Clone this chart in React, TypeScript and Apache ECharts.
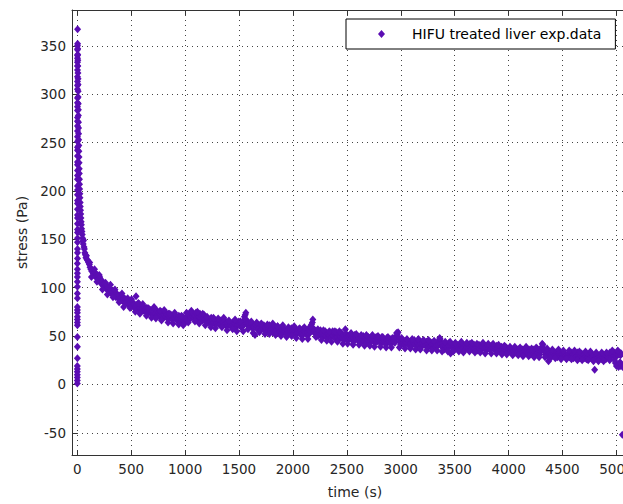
import React, { useEffect, useRef } from "react";
import * as echarts from "echarts";

const seriesName = "HIFU treated liver exp.data";
const xAxisTitle = "time (s)";
const yAxisTitle = "stress (Pa)";

// loading ramp (time s, stress Pa)
const loadingPhase: number[][] = [
  [0, 1], [0, 4], [0, 7], [0, 10], [0, 13], [0, 16], [0, 19], [1, 27], [1, 39], [1, 49], [1, 61], [1, 64], [1, 67],
  [1, 70], [1, 74], [1, 77], [1, 80], [1, 89], [1, 94], [1, 101], [1, 106], [1, 111], [1, 115], [1, 119], [1, 125],
  [2, 130], [2, 136], [2, 140], [2, 147], [2, 151], [2, 157], [2, 160], [2, 166], [2, 172], [2, 175], [2, 181],
  [2, 187], [2, 190], [2, 196], [2, 201], [2, 205], [2, 212], [2, 216], [2, 221], [2, 227], [2, 230], [2, 236],
  [2, 242], [2, 245], [2, 251], [2, 256], [2, 262], [2, 267], [2, 272], [2, 276], [2, 283], [2, 287], [2, 291],
  [2, 296], [2, 305], [2, 309], [2, 313], [2, 318], [2, 325], [2, 329], [2, 333], [2, 337], [2, 340], [2, 346],
  [2, 350], [3, 367],
];

// relaxation, first 100 s
const relaxationEarly: number[][] = [
  [3, 352], [4, 347], [4, 341], [5, 335], [5, 329], [6, 322], [7, 316], [7, 310], [8, 303], [8, 297], [9, 290],
  [10, 284], [10, 278], [11, 271], [12, 265], [12, 259], [13, 253], [14, 247], [15, 241], [16, 235], [17, 229],
  [18, 223], [19, 218], [20, 212], [21, 207], [22, 202], [24, 197], [25, 193], [27, 188], [28, 184], [30, 180],
  [32, 176], [34, 172], [36, 168], [38, 165], [40, 161], [43, 158], [46, 155], [49, 151], [52, 148], [55, 145],
  [58, 149], [62, 142], [66, 140], [70, 136], [75, 134], [80, 131], [85, 133], [90, 129],
];

// relaxation, 100 - 1000 s
const relaxationA: number[][] = [
  [96, 128], [104, 126], [112, 124], [118, 121], [126, 119], [134, 117], [140, 118], [148, 115], [155, 113],
  [162, 116], [170, 112], [178, 110], [185, 113], [192, 109], [200, 108], [208, 111], [215, 106], [222, 104],
  [230, 107], [238, 103], [245, 101], [252, 104], [260, 100], [268, 102], [275, 98], [282, 101], [290, 97],
  [298, 99], [305, 95], [312, 98], [320, 94], [328, 96], [335, 93], [342, 97], [350, 92], [358, 90], [365, 94],
  [372, 91], [380, 89], [388, 92], [395, 88], [402, 90], [410, 87], [418, 91], [425, 86], [432, 89], [440, 85],
  [448, 88], [455, 84], [462, 87], [470, 83], [478, 86], [485, 82], [492, 85], [500, 83], [508, 81], [515, 84],
  [522, 80], [530, 83], [538, 79], [545, 91], [552, 82], [560, 80], [568, 78], [575, 83], [582, 79], [590, 77],
  [598, 81], [605, 78], [612, 76], [620, 80], [628, 77], [635, 75], [642, 79], [650, 76], [658, 74], [665, 78],
  [672, 75], [680, 77], [688, 73], [695, 76], [702, 72], [710, 75], [718, 78], [725, 73], [732, 71], [740, 76],
  [748, 72], [755, 74], [762, 70], [770, 73], [778, 75], [785, 71], [792, 73], [800, 69], [808, 72], [815, 75],
  [822, 70], [830, 72], [838, 68], [845, 73], [852, 71], [860, 69], [868, 72], [875, 70], [882, 67], [890, 71],
  [898, 69], [905, 72], [912, 68], [920, 70], [928, 66], [935, 69], [942, 71], [950, 67], [958, 65], [965, 69],
  [972, 67], [980, 70], [988, 66], [995, 68],
];

// relaxation, 1000 - 2000 s
const relaxationB: number[][] = [
  [1002, 64], [1010, 67], [1018, 70], [1025, 66], [1032, 72], [1040, 68], [1048, 71], [1055, 69], [1062, 73],
  [1070, 70], [1078, 72], [1085, 68], [1092, 71], [1100, 74], [1108, 69], [1115, 72], [1122, 67], [1130, 70],
  [1138, 73], [1145, 68], [1152, 71], [1160, 66], [1168, 69], [1175, 72], [1182, 67], [1190, 65], [1198, 69],
  [1205, 66], [1212, 68], [1220, 64], [1228, 67], [1235, 65], [1242, 69], [1250, 63], [1258, 66], [1265, 64],
  [1272, 67], [1280, 62], [1288, 65], [1295, 63], [1302, 67], [1310, 64], [1318, 62], [1325, 66], [1332, 63],
  [1340, 65], [1348, 61], [1355, 64], [1362, 62], [1370, 66], [1378, 63], [1385, 60], [1392, 64], [1400, 62],
  [1408, 65], [1415, 61], [1422, 63], [1430, 60], [1438, 64], [1445, 62], [1452, 59], [1460, 63], [1468, 61],
  [1475, 64], [1482, 60], [1490, 62], [1498, 65], [1505, 61], [1512, 63], [1520, 59], [1528, 62], [1535, 60],
  [1542, 66], [1550, 70], [1558, 72], [1565, 67], [1572, 63], [1580, 61], [1588, 64], [1595, 59], [1602, 62],
  [1610, 60], [1618, 63], [1625, 58], [1632, 61], [1640, 59], [1648, 51], [1655, 62], [1662, 58], [1670, 60],
  [1678, 57], [1685, 61], [1692, 59], [1700, 62], [1708, 57], [1715, 60], [1722, 58], [1730, 61], [1738, 56],
  [1745, 59], [1752, 57], [1760, 60], [1768, 55], [1775, 58], [1782, 61], [1790, 56], [1798, 59], [1805, 57],
  [1812, 54], [1820, 58], [1828, 56], [1835, 59], [1842, 55], [1850, 57], [1858, 60], [1865, 54], [1872, 57],
  [1880, 55], [1888, 58], [1895, 53], [1902, 56], [1910, 58], [1918, 54], [1925, 57], [1932, 55], [1940, 52],
  [1948, 56], [1955, 54], [1962, 57], [1970, 53], [1978, 55], [1985, 58], [1992, 54],
];

// relaxation, 2000 - 3000 s
const relaxationC: number[][] = [
  [2000, 56], [2008, 53], [2015, 57], [2022, 55], [2030, 52], [2038, 56], [2045, 54], [2052, 57], [2060, 53],
  [2068, 55], [2075, 51], [2082, 54], [2090, 57], [2098, 52], [2105, 55], [2112, 53], [2120, 56], [2128, 51],
  [2135, 54], [2142, 57], [2150, 52], [2158, 55], [2165, 59], [2172, 62], [2180, 64], [2188, 58], [2195, 54],
  [2202, 56], [2210, 52], [2218, 55], [2225, 53], [2232, 50], [2240, 54], [2248, 52], [2255, 56], [2262, 51],
  [2270, 54], [2278, 49], [2285, 53], [2292, 51], [2300, 55], [2308, 50], [2315, 53], [2322, 48], [2330, 52],
  [2338, 50], [2345, 54], [2352, 49], [2360, 52], [2368, 55], [2375, 50], [2382, 53], [2390, 48], [2398, 51],
  [2405, 54], [2412, 49], [2420, 52], [2428, 47], [2435, 51], [2442, 49], [2450, 53], [2458, 48], [2465, 51],
  [2472, 46], [2480, 50], [2488, 48], [2495, 52], [2502, 49], [2510, 46], [2518, 50], [2525, 48], [2532, 51],
  [2540, 47], [2548, 49], [2555, 45], [2562, 48], [2570, 51], [2578, 46], [2585, 49], [2592, 47], [2600, 50],
  [2608, 45], [2615, 48], [2622, 46], [2630, 49], [2638, 44], [2645, 47], [2652, 50], [2660, 45], [2668, 48],
  [2675, 46], [2682, 43], [2690, 47], [2698, 49], [2705, 45], [2712, 48], [2720, 44], [2728, 47], [2735, 50],
  [2742, 45], [2750, 48], [2758, 43], [2765, 46], [2772, 49], [2780, 44], [2788, 47], [2795, 45], [2802, 48],
  [2810, 43], [2818, 46], [2825, 49], [2832, 44], [2840, 47], [2848, 45], [2855, 42], [2862, 46], [2870, 48],
  [2878, 43], [2885, 46], [2892, 44], [2900, 47], [2908, 42], [2915, 45], [2922, 48], [2930, 44], [2938, 46],
  [2945, 43], [2952, 47], [2960, 49], [2968, 52], [2975, 54], [2982, 48], [2990, 44], [2998, 41],
];

// relaxation, 3000 - 4000 s
const relaxationD: number[][] = [
  [3005, 45], [3012, 42], [3020, 46], [3028, 43], [3035, 41], [3042, 45], [3050, 43], [3058, 46], [3065, 42],
  [3072, 44], [3080, 40], [3088, 44], [3095, 42], [3102, 45], [3110, 41], [3118, 43], [3125, 46], [3132, 42],
  [3140, 44], [3148, 40], [3155, 43], [3162, 45], [3170, 41], [3178, 44], [3185, 42], [3192, 39], [3200, 43],
  [3208, 45], [3215, 41], [3222, 43], [3230, 40], [3238, 44], [3245, 42], [3252, 38], [3260, 42], [3268, 44],
  [3275, 40], [3282, 43], [3290, 41], [3298, 37], [3305, 41], [3312, 43], [3320, 39], [3328, 42], [3335, 40],
  [3342, 44], [3350, 41], [3358, 45], [3365, 47], [3372, 42], [3380, 39], [3388, 42], [3395, 40], [3402, 36],
  [3410, 41], [3418, 39], [3425, 42], [3432, 38], [3440, 40], [3448, 43], [3455, 39], [3462, 32], [3470, 40],
  [3478, 38], [3485, 41], [3492, 37], [3500, 39], [3508, 40], [3515, 38], [3522, 41], [3530, 39], [3538, 36],
  [3545, 40], [3552, 42], [3560, 38], [3568, 40], [3575, 37], [3582, 41], [3590, 39], [3598, 36], [3605, 40],
  [3612, 38], [3620, 41], [3628, 37], [3635, 39], [3642, 42], [3650, 38], [3658, 40], [3665, 36], [3672, 39],
  [3680, 41], [3688, 37], [3695, 40], [3702, 38], [3710, 35], [3718, 39], [3725, 41], [3732, 37], [3740, 39],
  [3748, 36], [3755, 40], [3762, 38], [3770, 41], [3778, 37], [3785, 39], [3792, 35], [3800, 38], [3808, 40],
  [3815, 37], [3822, 39], [3830, 36], [3838, 40], [3845, 38], [3852, 41], [3860, 37], [3868, 39], [3875, 36],
  [3882, 38], [3890, 40], [3898, 37], [3905, 39], [3912, 35], [3920, 38], [3928, 36], [3935, 39], [3942, 37],
  [3950, 34], [3958, 38], [3965, 36], [3972, 39], [3980, 35], [3988, 37], [3995, 34],
];

// relaxation, 4000 s - end, then unloading
const relaxationE: number[][] = [
  [4002, 36], [4010, 34], [4018, 37], [4025, 35], [4032, 33], [4040, 36], [4048, 34], [4055, 37], [4062, 33],
  [4070, 35], [4078, 32], [4085, 36], [4092, 34], [4100, 37], [4108, 33], [4115, 35], [4122, 32], [4130, 36],
  [4138, 34], [4145, 31], [4152, 35], [4160, 37], [4168, 33], [4175, 35], [4182, 32], [4190, 36], [4198, 34],
  [4205, 31], [4212, 35], [4220, 33], [4228, 36], [4235, 32], [4242, 34], [4250, 31], [4258, 35], [4265, 37],
  [4272, 33], [4280, 35], [4288, 31], [4295, 34], [4302, 36], [4310, 39], [4318, 41], [4325, 37], [4332, 34],
  [4340, 31], [4348, 33], [4355, 30], [4362, 34], [4370, 24], [4378, 32], [4385, 30], [4392, 33], [4400, 31],
  [4408, 34], [4415, 30], [4422, 32], [4430, 29], [4438, 33], [4445, 31], [4452, 28], [4460, 32], [4468, 30],
  [4475, 33], [4482, 29], [4490, 31], [4498, 28], [4505, 31], [4512, 29], [4520, 32], [4528, 30], [4535, 27],
  [4542, 31], [4550, 29], [4558, 32], [4565, 28], [4572, 30], [4580, 33], [4588, 29], [4595, 31], [4602, 27],
  [4610, 30], [4618, 32], [4625, 28], [4632, 30], [4640, 33], [4648, 29], [4655, 31], [4662, 27], [4670, 30],
  [4678, 32], [4685, 28], [4692, 30], [4700, 27], [4708, 31], [4715, 29], [4722, 26], [4730, 30], [4738, 28],
  [4745, 31], [4752, 27], [4760, 29], [4768, 32], [4775, 28], [4782, 30], [4790, 26], [4798, 15], [4805, 29],
  [4812, 27], [4820, 30], [4828, 28], [4835, 25], [4842, 29], [4850, 27], [4858, 30], [4865, 26], [4872, 28],
  [4880, 31], [4888, 27], [4895, 29], [4902, 26], [4910, 29], [4918, 31], [4925, 28], [4932, 30], [4940, 33],
  [4948, 31], [4955, 29], [4962, 32], [4970, 30], [4978, 33], [4985, 30], [4992, 32], [5000, 29], [5008, 31],
  [5015, 34], [5022, 31], [5030, 33], [5038, 30], [5045, 32], [4990, 22], [5000, 19], [5010, 20], [5020, 18],
  [5030, 21], [5040, 19], [5050, 20], [5058, 18], [5055, -52],
];

// scattered readings at the upper and lower edges of the relaxation band
const bandSpread: number[][] = [
  [115, 126], [131, 111], [160, 119], [182, 106], [204, 113], [233, 98], [262, 105], [279, 93], [308, 103],
  [331, 90], [349, 98], [388, 85], [414, 94], [430, 80], [467, 89], [489, 79], [503, 88], [538, 75], [566, 84],
  [581, 73], [607, 83], [641, 71], [656, 79], [688, 69], [712, 80], [729, 68], [768, 76], [781, 66], [806, 77],
  [842, 64], [857, 73], [889, 63], [903, 74], [941, 62], [966, 71], [983, 61], [1013, 74], [1029, 64],
  [1058, 76], [1091, 65], [1114, 75], [1131, 63], [1163, 73], [1187, 61], [1204, 70], [1239, 59], [1263, 69],
  [1281, 58], [1307, 68], [1341, 59], [1358, 69], [1389, 56], [1406, 66], [1441, 57], [1463, 67], [1479, 55],
  [1513, 65], [1539, 55], [1563, 74], [1583, 57], [1614, 65], [1631, 53], [1664, 64], [1689, 54], [1707, 63],
  [1741, 52], [1763, 62], [1781, 52], [1813, 63], [1839, 51], [1857, 60], [1889, 50], [1906, 61], [1941, 49],
  [1958, 59], [1988, 50], [2012, 60], [2031, 48], [2063, 58], [2087, 47], [2106, 59], [2139, 47], [2163, 60],
  [2184, 67], [2213, 49], [2231, 57], [2264, 46], [2283, 56], [2314, 45], [2337, 55], [2358, 44], [2389, 55],
  [2413, 44], [2431, 55], [2463, 42], [2486, 57], [2507, 42], [2539, 53], [2558, 41], [2587, 52], [2613, 41],
  [2633, 51], [2664, 40], [2681, 51], [2714, 40], [2737, 51], [2756, 39], [2789, 50], [2812, 39], [2833, 49],
  [2864, 38], [2881, 49], [2913, 38], [2937, 48], [2961, 53], [2987, 38], [3008, 48], [3039, 37], [3057, 47],
  [3089, 37], [3106, 47], [3138, 36], [3164, 47], [3181, 36], [3212, 46], [3239, 35], [3257, 46], [3288, 35],
  [3309, 45], [3337, 35], [3361, 48], [3383, 34], [3412, 44], [3437, 34], [3458, 44], [3488, 34], [3506, 43],
  [3539, 34], [3562, 44], [3581, 33], [3613, 43], [3637, 34], [3659, 43], [3688, 33], [3706, 42], [3737, 33],
  [3762, 43], [3783, 32], [3811, 42], [3839, 32], [3856, 42], [3888, 32], [3907, 41], [3938, 31], [3961, 40],
  [3983, 31], [4013, 39], [4038, 30], [4057, 39], [4089, 30], [4107, 38], [4133, 29], [4162, 39], [4186, 29],
  [4213, 37], [4237, 28], [4256, 38], [4283, 28], [4312, 42], [4338, 28], [4357, 37], [4388, 27], [4406, 36],
  [4433, 27], [4463, 36], [4487, 26], [4508, 35], [4537, 26], [4562, 35], [4583, 26], [4611, 35], [4638, 25],
  [4657, 34], [4682, 25], [4713, 34], [4738, 25], [4759, 34], [4787, 24], [4812, 33], [4833, 24], [4863, 33],
  [4881, 24], [4908, 33], [4937, 25], [4962, 35], [4983, 25], [5012, 35], [5033, 23],
];

const xRange = [-49, 5200];
const yRange = [-73, 387];
const xStep = 500;
const yStep = 50;

const markerColor = "#5b0db3";
const textColor = "#262626";
const axisColor = "#333333";
const fontFamily = "'DejaVu Sans', sans-serif";

export default function App() {
  const ref = useRef<HTMLDivElement>(null);

  useEffect(() => {
    if (!ref.current) return;
    const chart = echarts.init(ref.current, undefined, { renderer: "svg" });
    const allPoints = [
      ...loadingPhase,
      ...relaxationEarly,
      ...relaxationA,
      ...relaxationB,
      ...relaxationC,
      ...relaxationD,
      ...relaxationE,
      ...bandSpread,
    ];
    const gridLine = { show: true, lineStyle: { color: "#444", width: 1, type: [1, 4] as number[] } };
    const boxAxisCommon = {
      axisLine: { show: true, onZero: false, lineStyle: { color: axisColor, width: 1 } },
      axisTick: { show: true, inside: true, length: 5, lineStyle: { color: axisColor } },
    };
    const plainNumber = (v: number) => String(v);
    chart.setOption({
      animation: false,
      backgroundColor: "#ffffff",
      grid: { left: 72, top: 10, right: 62, bottom: 47, containLabel: false },
      legend: {
        show: true,
        left: 346,
        top: 19,
        orient: "horizontal",
        padding: [8, 14, 8, 32],
        backgroundColor: "#ffffff",
        borderColor: "#000000",
        borderWidth: 1,
        borderRadius: 0,
        itemWidth: 7,
        itemHeight: 8,
        icon: "diamond",
        textStyle: { fontFamily, fontSize: 14, color: "#000", padding: [0, 0, 0, 22] },
        data: [seriesName],
      },
      xAxis: [
        {
          type: "value",
          min: xRange[0],
          max: xRange[1],
          minInterval: xStep,
          maxInterval: xStep,
          splitNumber: 11,
          name: xAxisTitle,
          nameLocation: "middle",
          nameGap: 30,
          nameTextStyle: { fontFamily, fontSize: 14, color: textColor },
          ...boxAxisCommon,
          axisLabel: {
            show: true,
            margin: 7,
            showMinLabel: false,
            showMaxLabel: false,
            formatter: plainNumber,
            fontFamily,
            fontSize: 13.5,
            color: textColor,
          },
          splitLine: gridLine,
        },
        {
          type: "value",
          position: "top",
          min: xRange[0],
          max: xRange[1],
          minInterval: xStep,
          maxInterval: xStep,
          splitNumber: 11,
          ...boxAxisCommon,
          axisLabel: { show: false },
          splitLine: { show: false },
        },
      ],
      yAxis: [
        {
          type: "value",
          min: yRange[0],
          max: yRange[1],
          minInterval: yStep,
          maxInterval: yStep,
          splitNumber: 9,
          name: yAxisTitle,
          nameLocation: "middle",
          nameGap: 42,
          nameTextStyle: { fontFamily, fontSize: 14, color: textColor },
          ...boxAxisCommon,
          axisLabel: {
            show: true,
            margin: 6,
            showMinLabel: false,
            showMaxLabel: false,
            formatter: plainNumber,
            fontFamily,
            fontSize: 13.5,
            color: textColor,
          },
          splitLine: gridLine,
        },
        {
          type: "value",
          position: "right",
          min: yRange[0],
          max: yRange[1],
          minInterval: yStep,
          maxInterval: yStep,
          splitNumber: 9,
          ...boxAxisCommon,
          axisLabel: { show: false },
          splitLine: { show: false },
        },
      ],
      series: [
        {
          name: seriesName,
          type: "scatter",
          xAxisIndex: 0,
          yAxisIndex: 0,
          symbol: "diamond",
          symbolSize: [7, 8],
          itemStyle: { color: markerColor, opacity: 1 },
          data: allPoints,
          clip: true,
        },
      ],
    });
    return () => chart.dispose();
  }, []);

  return (
    <div
      style={{
        position: "fixed",
        left: 0,
        top: 0,
        width: 623,
        height: 504,
        overflow: "hidden",
        background: "#fff",
      }}
    >
      <div ref={ref} style={{ width: 700, height: 504 }} />
    </div>
  );
}
